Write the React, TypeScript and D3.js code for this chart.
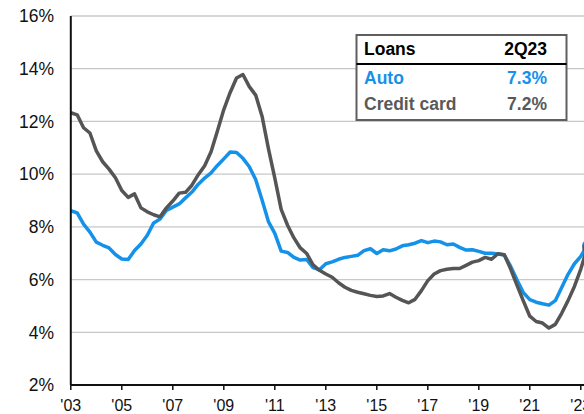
import * as d3 from 'd3';

// quarterly, 1Q03 .. 2Q23
const auto = [
  8.61, 8.53, 8.1, 7.8, 7.42, 7.3, 7.2, 6.95, 6.78, 6.76,
  7.1, 7.35, 7.68, 8.15, 8.3, 8.62, 8.75, 8.87, 9.1, 9.32,
  9.62, 9.85, 10.05, 10.33, 10.58, 10.84, 10.82, 10.6, 10.28, 9.8,
  9.02, 8.2, 7.75, 7.08, 7.03, 6.84, 6.74, 6.76, 6.45, 6.37,
  6.6, 6.67, 6.77, 6.84, 6.88, 6.92, 7.1, 7.17, 6.99, 7.13,
  7.09, 7.16, 7.28, 7.32, 7.38, 7.48, 7.4, 7.46, 7.43, 7.32,
  7.35, 7.22, 7.12, 7.13, 7.07, 7.0, 7.0, 6.97, 6.93, 6.5,
  5.98, 5.5, 5.24, 5.14, 5.08, 5.03, 5.2, 5.7, 6.2, 6.6,
  6.88, 7.3,
];

const creditCard = [
  12.33, 12.25, 11.76, 11.56, 10.88, 10.47, 10.19, 9.86, 9.38, 9.12,
  9.25, 8.72, 8.57, 8.46, 8.38, 8.72, 8.98, 9.28, 9.31, 9.58,
  9.98, 10.32, 10.85, 11.64, 12.45, 13.1, 13.65, 13.78, 13.32, 13.0,
  12.2, 10.97, 9.85, 8.66, 8.06, 7.58, 7.2, 6.99, 6.56, 6.35,
  6.21, 6.09, 5.88, 5.71, 5.59, 5.52, 5.46, 5.4, 5.36, 5.38,
  5.47, 5.33, 5.21, 5.12, 5.25, 5.58, 5.96, 6.21, 6.34, 6.39,
  6.42, 6.42, 6.54, 6.66, 6.72, 6.84, 6.77, 6.98, 6.94, 6.4,
  5.78, 5.18, 4.61, 4.41, 4.35, 4.16, 4.3, 4.72, 5.2, 5.74,
  6.4, 7.2,
];

const yTicks = [2, 4, 6, 8, 10, 12, 14, 16];
const xTicks = [2003, 2005, 2007, 2009, 2011, 2013, 2015, 2017, 2019, 2021, 2023];

const legendRows = [
  { name: 'Auto', value: '7.3%', color: '#1491e8' },
  { name: 'Credit card', value: '7.2%', color: '#595959' },
];

const W = 584;
const H = 414;
const font = '"Liberation Sans", Arial, sans-serif';

export default function App() {
  const x = d3.scaleLinear().domain([2003, 2023]).range([70.8, 580.8]);
  const y = d3.scaleLinear().domain([2, 16]).range([385, 16]);

  const t = (i: number) => 2003 + i / 4;
  const line = d3
    .line<number>()
    .x((_, i) => x(t(i)))
    .y((d) => y(d));

  const lastI = auto.length - 1;

  return (
    <svg
      width={W}
      height={H}
      style={{ position: 'absolute', left: 0, top: 0, background: '#fff' }}
      fontFamily={font}
    >
      {/* grid */}
      {yTicks.slice(1).map((v) => (
        <line key={v} x1={x(2003)} x2={W} y1={y(v)} y2={y(v)} stroke="#c8c8c8" strokeWidth={1.3} />
      ))}
      {yTicks.map((v) => (
        <text key={v} x={54} y={y(v)} dy="0.36em" textAnchor="end" fontSize={17.5} fill="#111">
          {v}%
        </text>
      ))}

      {/* series */}
      <path d={line(auto) ?? ''} fill="none" stroke="#1491e8" strokeWidth={3.5} strokeLinejoin="round" />
      <path d={line(creditCard) ?? ''} fill="none" stroke="#555555" strokeWidth={3.5} strokeLinejoin="round" />
      <circle cx={x(t(lastI))} cy={y(auto[lastI])} r={5} fill="#1491e8" />
      <circle cx={x(t(lastI))} cy={y(creditCard[lastI])} r={5} fill="#555555" />

      {/* axes */}
      <line x1={x(2003)} x2={x(2003)} y1={y(16)} y2={y(2)} stroke="#111" strokeWidth={2} />
      <line x1={x(2003)} x2={W} y1={y(2)} y2={y(2)} stroke="#111" strokeWidth={2} />
      {xTicks.map((yr) => (
        <g key={yr}>
          <line x1={x(yr)} x2={x(yr)} y1={y(2)} y2={y(2) + 5} stroke="#111" strokeWidth={1.5} />
          <text x={x(yr)} y={y(2) + 26} textAnchor="middle" fontSize={16} fill="#111">
            '{String(yr).slice(2)}
          </text>
        </g>
      ))}

      {/* legend table */}
      <g>
        <rect x={356.5} y={35} width={210} height={85} fill="#fff" stroke="#5f5f5f" strokeWidth={2} />
        <text x={364} y={55} fontSize={17.5} fontWeight="bold" fill="#000">Loans</text>
        <text x={547} y={55} fontSize={17.5} fontWeight="bold" fill="#000" textAnchor="end">2Q23</text>
        <line x1={356.5} x2={566.5} y1={64} y2={64} stroke="#000" strokeWidth={2} />
        {legendRows.map((r, i) => (
          <g key={r.name}>
            <text x={364} y={84 + i * 26} fontSize={17.5} fontWeight="bold" fill={r.color}>{r.name}</text>
            <text x={547} y={84 + i * 26} fontSize={17.5} fontWeight="bold" fill={r.color} textAnchor="end">
              {r.value}
            </text>
          </g>
        ))}
      </g>
    </svg>
  );
}
